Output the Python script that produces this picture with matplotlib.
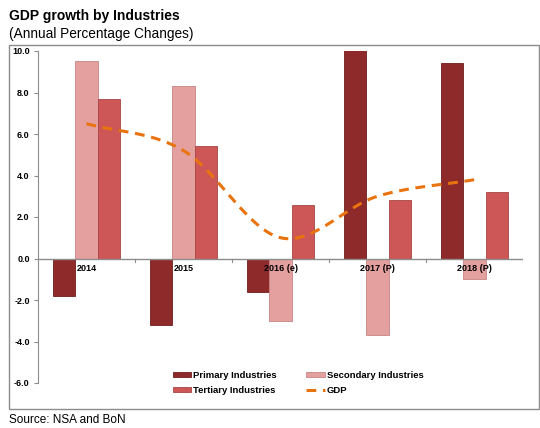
import numpy as np
import matplotlib
matplotlib.use("Agg")
import matplotlib.pyplot as plt
from matplotlib.patches import Rectangle

plt.rcParams['font.family'] = ['Liberation Sans', 'DejaVu Sans']

# data
years = ["2014", "2015", "2016 (e)", "2017 (P)", "2018 (P)"]
primary = [-1.8, -3.2, -1.6, 10.4, 9.4]
secondary = [9.5, 8.3, -3.0, -3.7, -1.0]
tertiary = [7.7, 5.4, 2.6, 2.8, 3.2]
gdp = [6.5, 5.2, 1.0, 3.0, 3.8]
yticks = [-6.0, -4.0, -2.0, 0.0, 2.0, 4.0, 6.0, 8.0, 10.0]

c_prim = "#8e2a2a"
c_sec = "#e4a09f"
c_ter = "#cd5656"
c_gdp = "#e8730f"


def catmull_rom(xs, ys, n=30):
    # smooth curve through the points, like a spreadsheet "smoothed line"
    xs = np.asarray(xs, float)
    ys = np.asarray(ys, float)
    px = np.concatenate([[2 * xs[0] - xs[1]], xs, [2 * xs[-1] - xs[-2]]])
    py = np.concatenate([[2 * ys[0] - ys[1]], ys, [2 * ys[-1] - ys[-2]]])
    out_x, out_y = [], []
    for i in range(1, len(px) - 2):
        t = np.linspace(0, 1, n)
        for p, out in ((px, out_x), (py, out_y)):
            p0, p1, p2, p3 = p[i - 1], p[i], p[i + 1], p[i + 2]
            out.extend(0.5 * (2 * p1 + (-p0 + p2) * t
                              + (2 * p0 - 5 * p1 + 4 * p2 - p3) * t ** 2
                              + (-p0 + 3 * p1 - 3 * p2 + p3) * t ** 3))
    return np.array(out_x), np.array(out_y)


fig = plt.figure(figsize=(5.4, 4.28), dpi=100)
fig.patches.append(Rectangle((9 / 540, 1 - 409 / 428), 530 / 540, 364 / 428,
                             transform=fig.transFigure, fill=False,
                             edgecolor="#8c8c8c", linewidth=1.0))

ax = fig.add_axes([38 / 540, 1 - 383 / 428, 485 / 540, 332 / 428])

x = np.arange(len(years))
w = 0.23
b1 = ax.bar(x - w, primary, w, color=c_prim, edgecolor="#6e1d1d", linewidth=0.6,
            label="Primary Industries", zorder=2)
b2 = ax.bar(x, secondary, w, color=c_sec, edgecolor="#c88585", linewidth=0.6,
            label="Secondary Industries", zorder=2)
b3 = ax.bar(x + w, tertiary, w, color=c_ter, edgecolor="#a84444", linewidth=0.6,
            label="Tertiary Industries", zorder=2)

sx, sy = catmull_rom(x, gdp)
ln, = ax.plot(sx, sy, color=c_gdp, linestyle=(0, (3.2, 2.2)), linewidth=2.2,
              label="GDP", zorder=3)

ax.set_xlim(-0.5, len(years) - 0.5)
ax.set_ylim(-6, 10)
ax.set_yticks(yticks)
ax.set_yticklabels([f"{v:.1f}" for v in yticks], fontsize=6.5, fontweight="bold")
ax.tick_params(axis="y", length=3, color="#8c8c8c", pad=3)

for s in ("top", "right", "bottom"):
    ax.spines[s].set_visible(False)
ax.spines["left"].set_color("#8c8c8c")
ax.axhline(0, color="#8c8c8c", linewidth=1.0, zorder=4)

ax.set_xticks([])
for i, yr in enumerate(years):
    ax.text(i, -0.25, yr, ha="center", va="top", fontsize=6.5,
            fontweight="bold", zorder=5)
    ax.plot([i + 0.5, i + 0.5], [0, -0.15], color="#8c8c8c", linewidth=0.8,
            zorder=4)

# column-wise fill: Primary/Tertiary in col 1, Secondary/GDP in col 2
ax.legend([b1, b3, b2, ln],
          ["Primary Industries", "Tertiary Industries",
           "Secondary Industries", "GDP"],
          loc="upper left", bbox_to_anchor=(0.26, 0.062), ncol=2,
          frameon=False, handlelength=2.0, handleheight=0.5,
          columnspacing=3.1, handletextpad=0.2, labelspacing=0.6,
          prop={"weight": "bold", "size": 6.8})

fig.text(9 / 540, 1 - 16 / 428, "GDP growth by Industries", fontsize=10,
         fontweight="bold", va="center")
fig.text(9 / 540, 1 - 34 / 428, "(Annual Percentage Changes)", fontsize=9.8,
         va="center")
fig.text(9 / 540, 1 - 420 / 428, "Source: NSA and BoN", fontsize=8.5,
         va="center")

fig.savefig("out.png", dpi=100)
